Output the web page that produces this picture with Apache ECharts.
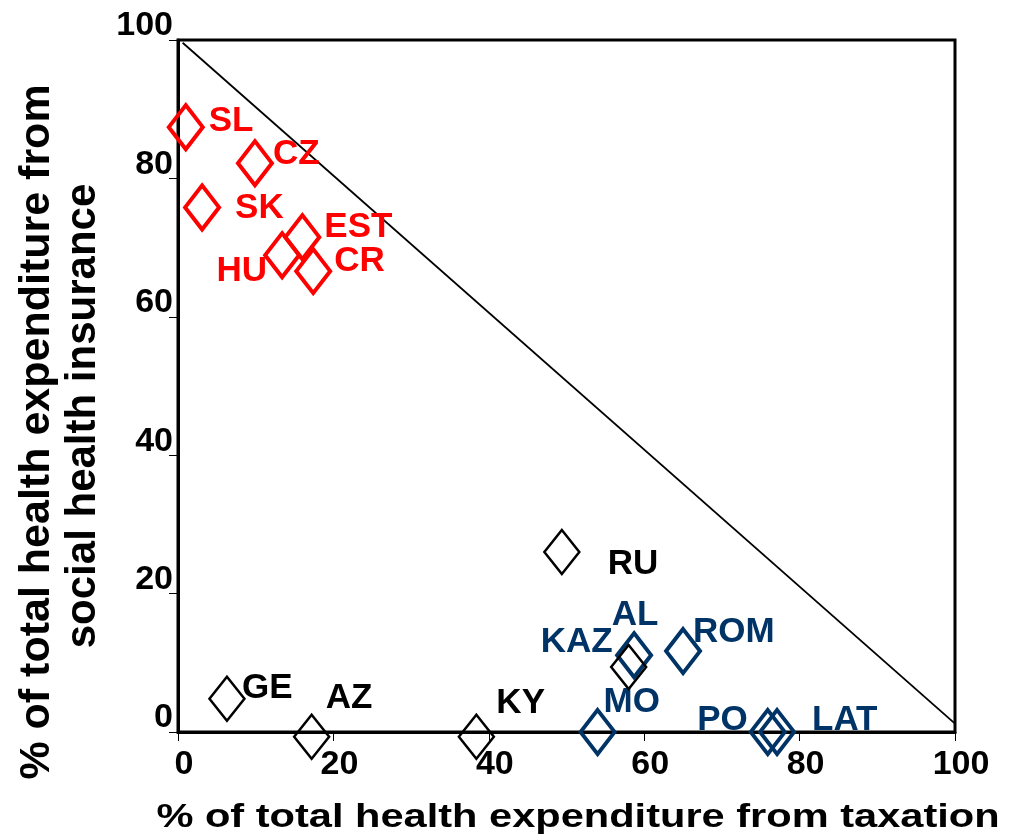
<!DOCTYPE html>
<html>
<head>
<meta charset="utf-8">
<script src="https://cdn.jsdelivr.net/npm/echarts@6/dist/echarts.min.js"></script>
<style>
html,body{margin:0;padding:0;background:#fff;}
#chart{width:1022px;height:839px;}
</style>
</head>
<body>
<div id="chart"></div>
<script>
// ---- data ----
const redNames = ['SL', 'CZ', 'SK', 'EST', 'HU', 'CR'];
const redX = [1.0, 9.9, 3.1, 16.0, 13.4, 17.4];
const redY = [87.4, 82.2, 75.8, 71.5, 68.9, 66.6];

const blackNames = ['GE', 'AZ', 'KY', 'RU', 'KAZ'];
const blackX = [6.3, 17.2, 38.4, 49.4, 58.0];
const blackY = [4.8, -0.7, -0.7, 26.0, 9.4];

const blueNames = ['AL', 'ROM', 'MO', 'PO', 'LAT'];
const blueX = [58.7, 65.0, 54.0, 75.9, 77.1];
const blueY = [11.1, 11.7, 0.0, 0.0, 0.0];

const diagX = [0.6, 100];
const diagY = [99.6, 1.2];

const xTicks = [0, 20, 40, 60, 80, 100];
const yTicks = [0, 20, 40, 60, 80, 100];

const xTitle = '% of total health expenditure from taxation';
const yTitle1 = '% of total health expenditure from';
const yTitle2 = 'social health insurance';

// ---- styles (label placement relative to marker centre) ----
const labelPlace = {
  SL: [23, -6, 'left'], CZ: [18, -9, 'left'], SK: [33, 1, 'left'],
  EST: [22, -10, 'left'], HU: [-15, 16, 'right'], CR: [21, -10, 'left'],
  GE: [15, -10, 'left'], AZ: [14, -39, 'left'], KY: [20, -34, 'left'],
  RU: [46, 12, 'left'], KAZ: [-16, -25, 'right'],
  AL: [1, -40, 'center'], ROM: [10, -19, 'left'], MO: [6, -30, 'left'],
  PO: [-20, -12, 'right'], LAT: [35, -12, 'left']
};
const labelColor = { KAZ: '#003366' };

const FONT = '"Liberation Sans", Arial, Helvetica, sans-serif';
const RED = '#FF0000', BLUE = '#003366', BLACK = '#000000';

function buildData(names, xs, ys, color) {
  return names.map((n, i) => {
    const p = labelPlace[n];
    return {
      name: n,
      value: [xs[i], ys[i]],
      label: {
        show: true,
        formatter: n,
        position: 'inside',
        align: p[2],
        verticalAlign: 'middle',
        offset: [p[0], p[1]],
        color: labelColor[n] || color
      }
    };
  });
}

function scatterSeries(names, xs, ys, color, size, bw, z) {
  return {
    type: 'scatter',
    symbol: 'diamond',
    symbolSize: size,
    clip: false,
    z: z,
    itemStyle: { color: 'rgba(0,0,0,0)', borderColor: color, borderWidth: bw, opacity: 1 },
    label: { fontFamily: FONT, fontWeight: 'bold', fontSize: 35 },
    emphasis: { disabled: true },
    data: buildData(names, xs, ys, color)
  };
}

const chart = echarts.init(document.getElementById('chart'), null, { renderer: 'canvas' });

const option = {
  backgroundColor: '#ffffff',
  animation: false,
  grid: {
    left: 178, right: 67, top: 40, bottom: 107,
    show: true, borderColor: '#000', borderWidth: 3, backgroundColor: 'transparent'
  },
  xAxis: {
    type: 'value', min: 0, max: 100, interval: 20,
    axisLine: { show: true, onZero: false, lineStyle: { color: '#000', width: 3 } },
    axisTick: { show: true, inside: false, length: 9, lineStyle: { color: '#000', width: 1 } },
    splitLine: { show: false },
    axisLabel: {
      fontFamily: FONT, fontWeight: 'bold', fontSize: 34, color: '#000',
      margin: 16, padding: [0, 0, 0, 12],
      formatter: v => (xTicks.indexOf(v) >= 0 ? String(v) : '')
    }
  },
  yAxis: {
    type: 'value', min: 0, max: 100, interval: 20,
    axisLine: { show: true, onZero: false, lineStyle: { color: '#000', width: 3 } },
    axisTick: { show: true, inside: false, length: 9, lineStyle: { color: '#000', width: 1 } },
    splitLine: { show: false },
    axisLabel: {
      fontFamily: FONT, fontWeight: 'bold', fontSize: 34, color: '#000',
      margin: 5, verticalAlign: 'bottom', lineHeight: 28, padding: [0, 0, 0, 0],
      formatter: v => (yTicks.indexOf(v) >= 0 ? String(v) : '')
    }
  },
  graphic: [
    {
      type: 'text', x: 578, y: 818, scaleX: 1.26, z: 10,
      style: {
        text: xTitle, font: 'bold 33px ' + FONT, fill: '#000',
        textAlign: 'center', textVerticalAlign: 'middle',
        shadowColor: 'rgba(0,0,0,0.35)', shadowOffsetX: 2, shadowOffsetY: 2, shadowBlur: 2
      }
    },
    {
      type: 'text', x: 37, y: 432, rotation: Math.PI / 2, z: 10,
      style: {
        text: yTitle1, font: 'bold 43px ' + FONT, fill: '#000',
        textAlign: 'center', textVerticalAlign: 'middle',
        shadowColor: 'rgba(0,0,0,0.35)', shadowOffsetX: 2, shadowOffsetY: 2, shadowBlur: 2
      }
    },
    {
      type: 'text', x: 83, y: 416, rotation: Math.PI / 2, z: 10,
      style: {
        text: yTitle2, font: 'bold 42px ' + FONT, fill: '#000',
        textAlign: 'center', textVerticalAlign: 'middle',
        shadowColor: 'rgba(0,0,0,0.35)', shadowOffsetX: 2, shadowOffsetY: 2, shadowBlur: 2
      }
    }
  ],
  series: [
    {
      type: 'line', symbol: 'none', silent: true, z: 1,
      lineStyle: { color: '#000', width: 1.8 },
      data: diagX.map((x, i) => [x, diagY[i]])
    },
    scatterSeries(redNames, redX, redY, RED, [34, 44], 4, 3),
    scatterSeries(blueNames, blueX, blueY, BLUE, [34, 44], 4, 3),
    scatterSeries(blackNames, blackX, blackY, BLACK, [35, 44], 2.5, 4)
  ]
};
chart.setOption(option);
</script>
</body>
</html>
